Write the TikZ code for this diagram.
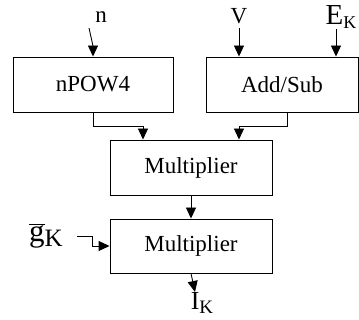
\documentclass[tikz,border=0pt]{standalone}
\usepackage{fontspec}
\setmainfont{Liberation Serif}
\usetikzlibrary{arrows.meta}
\newcommand{\lowK}[2]{{\fontsize{#1}{#1}\selectfont\raisebox{#2}{K}}}
\begin{document}
\begin{tikzpicture}[x=1pt, y=-1pt, >={Triangle[length=11pt,width=10pt]},
    every node/.style={font=\fontsize{23}{26}\selectfont},
    blk/.style={draw, line width=0.9pt, minimum height=55pt, inner sep=0pt}]
    \useasboundingbox (0,0) rectangle (359,320);
    \node[blk, minimum width=160pt] (pow) at (93,84.5) {nPOW4};
    \node[blk, minimum width=152pt] (as) at (282,84.5) {Add/Sub};
    \node[blk, minimum width=162pt] (m1) at (191,167.5) {Multiplier};
    \node[blk, minimum width=162pt, minimum height=54pt] (m2) at (191,246) {Multiplier};
    % inputs
    \node (nlbl) at (101,17) {n};
    \node (vlbl) at (239,16) {V};
    \node[font=\fontsize{29}{31}\selectfont, inner sep=0pt] (elbl) at (341,17) {E\lowK{18}{-4pt}};
    \node[font=\fontsize{31}{33}\selectfont] (glbl) at (46,236) {$\overline{\mbox{g}}$\lowK{25}{-5pt}};
    \node[font=\fontsize{26}{28}\selectfont] (ilbl) at (202,303) {I\lowK{19}{-4pt}};
    \coordinate (nin) at (89,28);
    \coordinate (vin) at (239,28);
    \coordinate (ein) at (336,29);
    \coordinate (gin) at (77,236);
    \draw[line width=0.9pt] (nin) -- (93,46);
    \draw[->, line width=0.9pt] (93,46) -- (pow.north);
    \draw[->, line width=0.9pt] (vin) -- (vin |- as.north);
    \draw[->, line width=0.9pt] (ein) -- (ein |- as.north);
    % to first multiplier
    \draw[->, line width=0.9pt] (pow.south) -- ++(0,14) -| ([xshift=-48pt]m1.north);
    \draw[->, line width=0.9pt] ([xshift=5pt]as.south) -- ++(0,14) -| ([xshift=48pt]m1.north);
    \draw[->, line width=0.9pt] (m1.south) -- (m2.north);
    \draw[->, line width=0.9pt] (gin) -- (92,236) -- (92,246) -- (m2.west);
    \draw[->, line width=0.9pt] (m2.south) -- (195,292);
\end{tikzpicture}
\end{document}
